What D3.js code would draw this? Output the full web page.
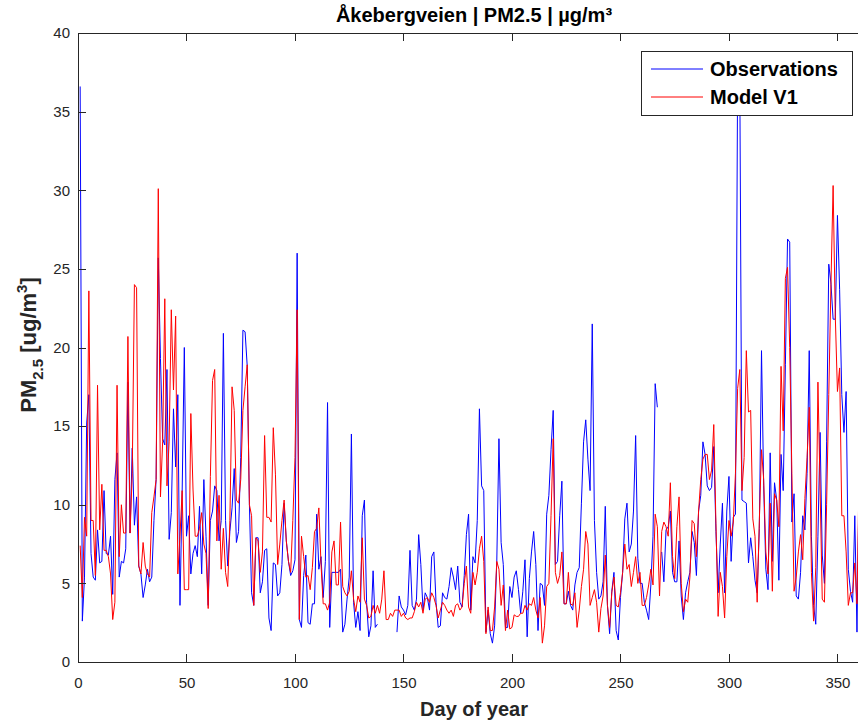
<!DOCTYPE html>
<html>
<head>
<meta charset="utf-8">
<script src="https://cdn.jsdelivr.net/npm/d3@7"></script>
<style>
  body { margin: 0; background: #fff; }
  svg { display: block; font-family: Arial, "Liberation Sans", Helvetica, sans-serif; }
</style>
</head>
<body>
<div id="container"></div>
<script>
/* DATA - one value per day, starting at day 1 (null = missing) */
const obs = [
  36.6, 2.6, 5.4, 15.2, 17.0, 6.9, 5.4, 5.2, 8.4, 6.3,
  6.4, 10.9, 6.9, 6.8, 8.0, 4.3, 11.6, 13.3, 5.4, 6.4,
  6.3, 7.2, 17.8, 8.2, 13.6, 8.7, 10.5, 6.1, 5.6, 4.1,
  4.9, 5.9, 5.1, 5.4, 9.0, 11.6, 25.7, 19.3, 14.2, 13.8,
  18.6, 7.8, 9.5, 16.1, 12.4, 17.0, 3.6, 10.8, 20.0, 8.0,
  9.3, 5.6, 6.9, 7.4, 6.7, 9.9, 5.6, 11.6, 8.0, 3.6,
  9.0, 9.6, 11.2, 10.9, 7.7, 9.0, 20.9, 9.0, 6.1, 8.3,
  9.8, 12.3, 7.6, 8.3, 13.0, 21.1, 21.0, 18.8, 10.0, 4.4,
  3.6, 7.9, 7.9, 4.4, 5.1, 7.1, 7.2, 2.8, 2.0, 6.3,
  6.2, 4.2, 4.4, 6.2, 10.1, 7.7, 6.4, 5.5, 5.8, 6.5,
  26.0, 2.7, 2.2, 5.5, 6.8, 2.5, 2.4, 3.7, 3.7, 9.4,
  5.9, 6.7, 4.1, 6.4, 16.5, 2.2, 5.7, 5.7, 5.7, 5.7,
  5.9, 1.9, 2.4, 4.0, 5.4, 14.5, 3.8, 2.2, 3.2, 2.0,
  9.3, 10.3, 3.8, 1.6, 2.3, 5.8, 2.2, 2.4, null, null,
  null, null, null, null, null, null, 1.9, 4.2, 3.5, 3.3,
  3.0, 3.6, 7.1, 3.6, 3.3, 4.0, 8.1, 6.2, 3.3, 4.4,
  4.1, 3.3, 6.7, 7.0, 3.8, 2.2, 2.3, 4.4, 4.1, 4.0,
  4.8, 6.0, 5.4, 4.6, 6.1, 3.8, 3.5, 5.5, 8.1, 9.4,
  3.3, 6.7, 6.3, 9.0, 16.1, 11.2, 10.9, 1.9, 3.3, 1.8,
  1.2, 2.3, 6.4, 14.2, 7.6, 6.2, 2.2, 2.2, 4.8, 4.1,
  5.4, 5.8, 4.6, 3.1, 4.5, 6.5, 1.6, 5.3, 7.0, 8.3,
  6.2, 2.0, 5.0, 4.9, 3.6, 9.4, 10.6, 13.5, 16.0, 6.2,
  6.4, 9.3, 11.5, 3.7, 3.7, 4.5, 3.6, 3.3, 4.9, 5.7,
  6.0, 10.1, 14.0, 15.4, 12.9, 10.9, 21.5, 9.0, 5.7, 4.0,
  4.2, 5.1, 9.9, 3.6, 1.8, 4.5, 5.7, 2.0, 1.4, 4.1,
  5.7, 9.1, 10.1, 7.0, 7.5, 9.6, 14.4, 6.6, 5.0, 5.0,
  3.8, 3.3, 2.7, 4.9, 8.0, 17.7, 16.2, null, 7.0, 5.1,
  8.4, 8.6, 9.6, 5.7, 5.1, 5.1, 7.7, 4.2, 2.7, 4.4,
  5.1, 5.7, 8.3, 7.6, 5.5, 9.6, 10.6, 14.0, 13.2, 11.2,
  10.9, 11.1, 13.7, 8.3, 4.4, 7.5, 10.1, 4.4, 9.6, 11.8,
  6.4, 9.2, 9.4, 37.5, 37.0, 10.3, 10.2, 10.1, 6.3, 7.9,
  6.7, 5.2, 4.4, 8.5, 19.8, 11.2, 5.9, 4.6, 13.3, 6.4,
  11.4, 10.3, 5.2, 13.2, 10.9, 18.9, 26.9, 26.7, 8.9, 10.7,
  4.2, 4.0, 5.7, 9.3, 8.4, 12.0, 19.8, 8.0, 3.6, 2.4,
  8.0, 14.6, 6.8, 5.0, 14.0, 25.3, 24.1, 21.8, 21.8, 28.4,
  23.7, 17.0, 14.6, 17.2, 5.9, 4.5, 3.8, 9.3, 1.9, 11.7,
  12.5
];

const model = [
  7.4, 4.1, 9.2, 8.0, 23.6, 9.0, 9.0, 5.5, 17.6, 8.4,
  11.3, 7.1, 7.1, 6.7, 5.6, 2.7, 3.8, 17.6, 6.7, 10.0,
  8.2, 8.2, 20.7, 8.2, 12.0, 24.0, 23.8, 6.1, 5.6, 7.6,
  6.1, 5.6, 5.4, 9.5, 10.5, 11.6, 30.1, 10.5, 14.0, 23.1,
  11.2, 14.0, 22.4, 17.3, 22.0, 5.6, 8.0, 10.9, 4.6, 4.6,
  4.6, 15.8, 11.0, 8.0, 8.0, 8.5, 9.5, 7.5, 6.9, 3.4,
  11.8, 17.9, 18.6, 7.7, 10.6, 5.9, 8.5, 5.7, 4.8, 9.0,
  17.5, 16.0, 10.3, 10.1, 11.6, 16.0, 17.5, 18.9, 10.0, 9.3,
  3.6, 7.9, 7.7, 5.7, 7.0, 14.4, 9.2, 9.2, 8.9, 14.9,
  11.9, 6.2, 7.5, 9.0, 10.3, 7.7, 6.4, 5.7, 9.0, 13.0,
  22.4, 2.7, 8.0, 6.7, 5.4, 5.5, 4.6, 6.0, 8.3, 8.5,
  9.8, 6.2, 3.7, 3.7, 3.3, 3.8, 7.0, 7.7, 4.9, 4.9,
  8.9, 4.8, 4.4, 4.2, 4.5, 5.8, 4.0, 3.2, 4.2, 3.8,
  7.9, 4.0, 3.6, 2.8, 2.9, 3.6, 3.1, 3.6, 3.1, 4.0,
  5.8, 2.7, 2.7, 3.1, 2.9, 3.3, 3.3, 3.3, 2.9, 3.1,
  2.8, 2.7, 2.8, 2.8, 3.2, 3.8, 3.5, 3.8, 3.1, 4.0,
  4.1, 3.8, 4.4, 4.1, 3.6, 2.8, 3.3, 3.8, 3.6, 3.3,
  3.1, 3.3, 2.9, 3.6, 3.7, 3.3, 3.5, 5.0, 6.1, 3.5,
  3.1, 5.7, 4.9, 5.7, 7.2, 8.0, 6.4, 1.8, 3.5, 2.0,
  2.0, 3.5, 6.4, 5.9, 3.6, 4.9, 2.0, 3.3, 2.1, 2.2,
  3.0, 2.9, 2.9, 3.1, 3.1, 3.6, 3.3, 3.7, 3.6, 4.1,
  3.3, 2.8, 4.1, 1.2, 2.3, 4.8, 5.0, 9.3, 14.2, 5.7,
  5.0, 5.5, 7.0, 3.7, 3.7, 5.7, 3.7, 3.6, 4.4, 2.2,
  3.3, 4.8, 5.9, 8.3, 7.5, 3.6, 4.1, 4.6, 3.8, 1.9,
  3.4, 4.2, 6.8, 3.6, 2.2, 4.4, 5.4, 3.6, 3.5, 4.4,
  5.7, 7.5, 5.9, 6.2, 4.8, 5.7, 6.7, 5.0, 5.7, 3.6,
  3.6, 4.1, 4.9, 5.9, 4.9, 9.4, 8.6, 4.2, 8.3, 8.9,
  8.6, 8.0, 11.4, 6.7, 5.3, 8.6, 10.5, 5.0, 3.2, 4.0,
  3.8, 5.4, 9.0, 8.8, 6.7, 9.6, 11.6, 12.9, 13.2, 13.2,
  11.6, 12.2, 15.1, 8.8, 2.9, 5.7, 4.8, 2.8, 6.7, 9.0,
  8.0, 8.9, 12.0, 17.4, 18.6, 10.9, 13.0, 19.8, 15.9, 16.0,
  9.1, 8.0, 3.8, 9.0, 13.5, 11.6, 7.0, 5.6, 10.1, 4.5,
  10.7, 10.3, 8.6, 18.8, 14.7, 24.4, 25.1, 20.0, 12.0, 4.5,
  5.4, 7.0, 8.1, 6.5, 10.4, 13.0, 16.2, 5.7, 2.6, 6.0,
  17.8, 11.0, 4.0, 3.8, 10.0, 17.0, 24.0, 30.3, 22.0, 17.2,
  18.7, 9.3, 9.3, 7.0, 3.6, 4.4, 4.4, 6.3, 3.7, 12.2,
  9.0
];

const xTicks = [0, 50, 100, 150, 200, 250, 300, 350];
const yTicks = [0, 5, 10, 15, 20, 25, 30, 35, 40];
const seriesNames = ["Observations", "Model V1"];
const seriesColors = ["#0000ff", "#ff0000"];

/* LAYOUT */
const width = 858;
const height = 723;
const margin = { top: 33, left: 78 };
const plotW = 792;   // axes run past the right edge of the figure
const plotH = 629;
const axisColor = "#262626";

const xScale = d3.scaleLinear()
  .domain([0, 365])
  .range([margin.left, margin.left + plotW]);

const yScale = d3.scaleLinear()
  .domain([0, 40])
  .range([margin.top + plotH, margin.top]);

const svg = d3.select("#container")
  .append("svg")
  .attr("width", width)
  .attr("height", height);

svg.append("rect")
  .attr("width", width)
  .attr("height", height)
  .attr("fill", "#fff");

svg.append("clipPath")
  .attr("id", "plot-clip")
  .append("rect")
  .attr("x", margin.left)
  .attr("y", margin.top)
  .attr("width", plotW)
  .attr("height", plotH);

// lines
const line = d3.line()
  .defined(d => d != null)
  .x((d, i) => xScale(i + 1))
  .y(d => yScale(d));

[obs, model].forEach((series, k) => {
  svg.append("path")
    .datum(series)
    .attr("clip-path", "url(#plot-clip)")
    .attr("fill", "none")
    .attr("stroke", seriesColors[k])
    .attr("stroke-width", 1)
    .attr("stroke-linejoin", "round")
    .attr("d", line);
});

// axes, ticks pointing inward
const styleAxis = g => {
  g.select(".domain").remove();
  g.selectAll(".tick line").attr("stroke", axisColor).attr("shape-rendering", "crispEdges");
  g.selectAll(".tick text").attr("fill", axisColor).attr("font-size", 15)
    .attr("font-family", "Arial, 'Liberation Sans', Helvetica, sans-serif");
};

svg.append("g")
  .attr("transform", `translate(0,${margin.top + plotH})`)
  .call(d3.axisBottom(xScale).tickValues(xTicks).tickSizeInner(-8).tickSizeOuter(0).tickPadding(15))
  .call(styleAxis);

svg.append("g")
  .attr("transform", `translate(0,${margin.top})`)
  .call(d3.axisTop(xScale).tickValues(xTicks).tickSizeInner(-8).tickSizeOuter(0).tickFormat(""))
  .call(styleAxis);

svg.append("g")
  .attr("transform", `translate(${margin.left},0)`)
  .call(d3.axisLeft(yScale).tickValues(yTicks).tickSizeInner(-8).tickSizeOuter(0).tickPadding(8))
  .call(styleAxis);

// axes box
svg.append("rect")
  .attr("x", margin.left)
  .attr("y", margin.top)
  .attr("width", plotW)
  .attr("height", plotH)
  .attr("fill", "none")
  .attr("stroke", axisColor)
  .attr("stroke-width", 1)
  .attr("shape-rendering", "crispEdges");

// title and labels
const midX = margin.left + plotW / 2;

svg.append("text")
  .attr("x", midX)
  .attr("y", 22)
  .attr("text-anchor", "middle")
  .attr("font-size", 20)
  .attr("font-weight", "bold")
  .attr("fill", "#000")
  .text("Åkebergveien | PM2.5 | µg/m³");

svg.append("text")
  .attr("x", midX)
  .attr("y", 716)
  .attr("text-anchor", "middle")
  .attr("font-size", 20)
  .attr("font-weight", "bold")
  .attr("fill", axisColor)
  .text("Day of year");

const yLabel = svg.append("text")
  .attr("transform", "translate(36,345) rotate(-90)")
  .attr("text-anchor", "middle")
  .attr("font-size", 22)
  .attr("font-weight", "bold")
  .attr("fill", axisColor);
yLabel.append("tspan").text("PM");
yLabel.append("tspan").attr("font-size", 15).attr("dy", 7).text("2.5");
yLabel.append("tspan").attr("dy", -7).text(" [ug/m");
yLabel.append("tspan").attr("font-size", 15).attr("dy", -9).text("3");
yLabel.append("tspan").attr("dy", 9).text("]");

// legend
const legend = svg.append("g");
legend.append("rect")
  .attr("x", 641)
  .attr("y", 51)
  .attr("width", 211)
  .attr("height", 64)
  .attr("fill", "#fff")
  .attr("stroke", axisColor)
  .attr("stroke-width", 1)
  .attr("shape-rendering", "crispEdges");

seriesNames.forEach((name, k) => {
  const ly = 69 + k * 28;
  legend.append("line")
    .attr("x1", 651).attr("x2", 703)
    .attr("y1", ly).attr("y2", ly)
    .attr("stroke", seriesColors[k])
    .attr("stroke-width", 1);
  legend.append("text")
    .attr("x", 710)
    .attr("y", ly + 7)
    .attr("font-size", 20)
    .attr("font-weight", "bold")
    .attr("fill", "#000")
    .text(name);
});
</script>
</body>
</html>
